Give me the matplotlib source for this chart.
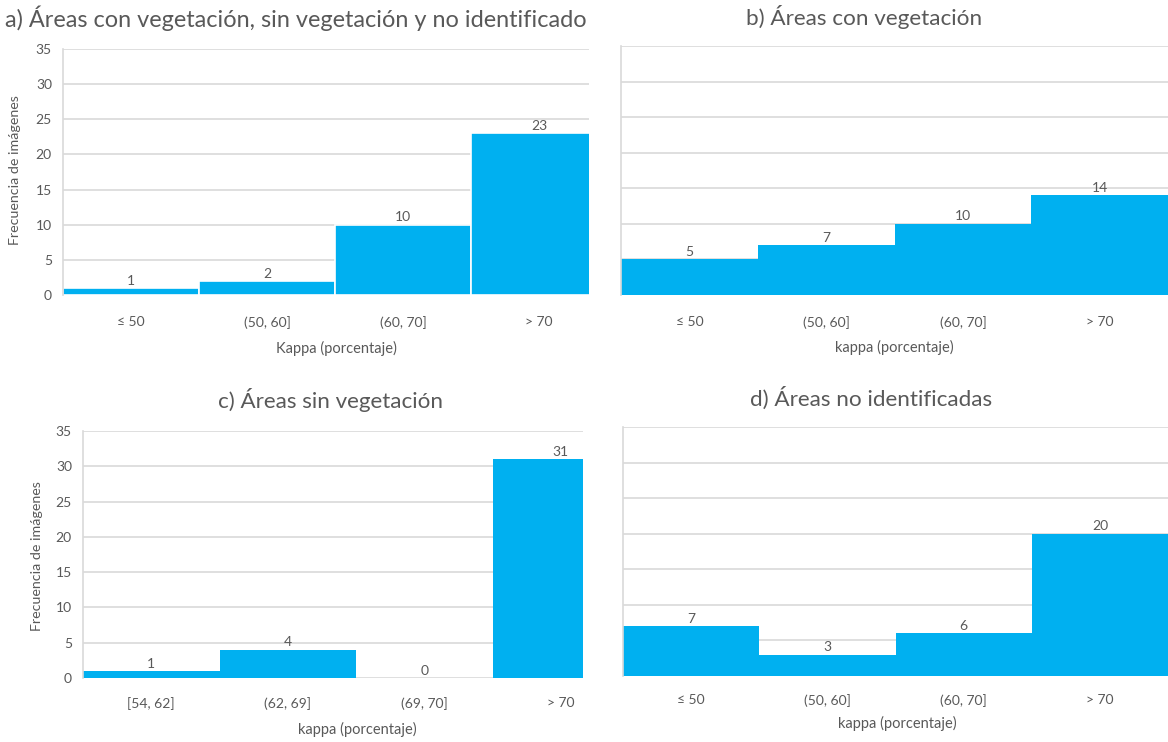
import matplotlib
matplotlib.use("Agg")
import matplotlib.pyplot as plt

# ---- data ----
cats_std = ["≤ 50", "(50, 60]", "(60, 70]", "> 70"]
cats_c = ["[54, 62]", "(62, 69]", "(69, 70]", "> 70"]
vals_a = [1, 2, 10, 23]
vals_b = [5, 7, 10, 14]
vals_c = [1, 4, 0, 31]
vals_d = [7, 3, 6, 20]
yticks = [0, 5, 10, 15, 20, 25, 30, 35]

titles = ["a) Áreas con vegetación, sin vegetación y no identificado",
          "b) Áreas con vegetación",
          "c) Áreas sin vegetación",
          "d) Áreas no identificadas"]
xlabels = ["Kappa (porcentaje)", "kappa (porcentaje)",
           "kappa (porcentaje)", "kappa (porcentaje)"]
ylabel = "Frecuencia de imágenes"

plt.rcParams['font.family'] = ['Lato', 'DejaVu Sans']
W, H = 1168, 742
fig = plt.figure(figsize=(W / 100, H / 100), dpi=100)
fig.patch.set_facecolor("white")

BLUE = "#00B0F0"
GRID = "#D9D9D9"
TXT = "#595959"


def fx(px):
    return px / W


def fy(py):
    return 1 - py / H


panels = [
    dict(l=63, r=589, t=49, b=295, cw=136.0, cats=cats_std, vals=vals_a, yt=True,
         title_xy=(296, 18), tfs=16.9, xl_xy=(336, 348), yl_xy=(15, 170), tick_y=318),
    dict(l=621, r=1168, t=46, b=295, cw=136.75, cats=cats_std, vals=vals_b, yt=False,
         title_xy=(864, 17), tfs=16.2, xl_xy=(894, 347), yl_xy=None, tick_y=318),
    dict(l=83, r=583, t=431, b=678, cw=136.5, cats=cats_c, vals=vals_c, yt=True,
         title_xy=(330, 400), tfs=16.1, xl_xy=(357, 729), yl_xy=(37, 556), tick_y=700),
    dict(l=623, r=1168, t=427, b=676, cw=136.25, cats=cats_std, vals=vals_d, yt=False,
         title_xy=(871, 398), tfs=16.2, xl_xy=(897, 723), yl_xy=None, tick_y=697),
]

for i, p in enumerate(panels):
    ax = fig.add_axes([fx(p['l']), fy(p['b']), fx(p['r'] - p['l']), (p['b'] - p['t']) / H])
    x = list(range(len(p['cats'])))
    if i == 0:
        bars = ax.bar(x, p['vals'], width=1.0, color=BLUE, edgecolor="white",
                      linewidth=1.2, zorder=2)
    else:
        bars = ax.bar(x, p['vals'], width=1.0, color=BLUE, linewidth=0, zorder=2)
    ax.bar_label(bars, labels=[str(v) for v in p['vals']], padding=1,
                 fontsize=10, color=TXT)
    ax.set_ylim(0, 35)
    ax.set_xlim(-0.5, -0.5 + (p['r'] - p['l']) / p['cw'])
    ax.set_yticks(yticks)
    ax.yaxis.grid(True, color=GRID, linewidth=1.2, zorder=0)
    ax.set_axisbelow(True)
    for s in ['top', 'right', 'bottom']:
        ax.spines[s].set_visible(False)
    ax.spines['left'].set_color(GRID)
    ax.spines['left'].set_linewidth(1.2)
    ax.tick_params(axis='both', length=0, colors=TXT, labelsize=10)
    if p['yt']:
        ax.set_yticklabels([str(t) for t in yticks])
        ax.tick_params(axis='y', pad=8)
    else:
        ax.set_yticklabels([])
    ax.set_xticks(x)
    ax.set_xticklabels(p['cats'])
    ax.tick_params(axis='x', pad=(p['tick_y'] - p['b']) - 8)
    fig.text(fx(p['title_xy'][0]), fy(p['title_xy'][1]), titles[i],
             ha='center', va='center', fontsize=p['tfs'], color=TXT)
    fig.text(fx(p['xl_xy'][0]), fy(p['xl_xy'][1]), xlabels[i],
             ha='center', va='center', fontsize=10.5, color=TXT)
    if p['yl_xy'] is not None:
        fig.text(fx(p['yl_xy'][0]), fy(p['yl_xy'][1]), ylabel, rotation=90,
                 ha='center', va='center', fontsize=10.3, color=TXT)

fig.savefig("out.png", dpi=100, facecolor="white")
